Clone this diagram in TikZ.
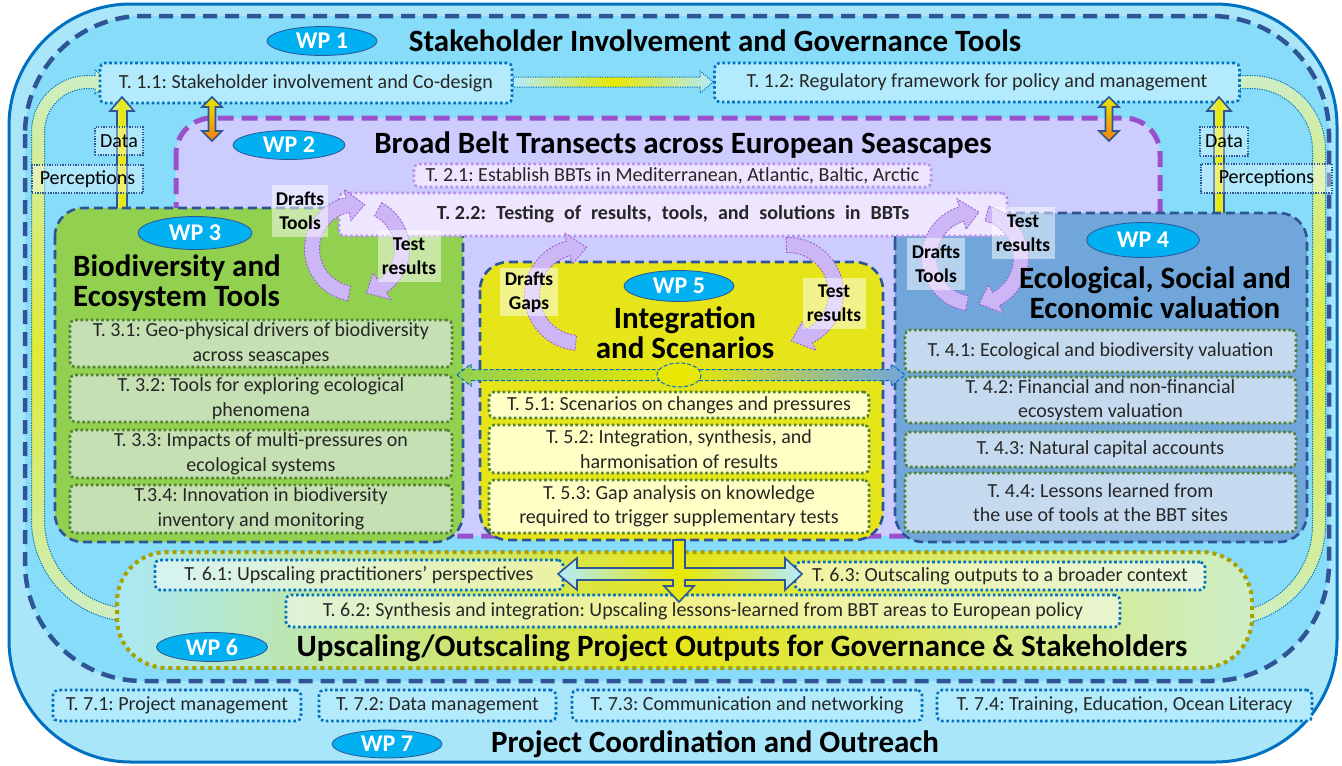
\documentclass[tikz,border=0pt]{standalone}
\usepackage{fontspec}
\setmainfont{Carlito}
\frenchspacing
\usetikzlibrary{calc,shapes.geometric}
\definecolor{outerband}{RGB}{170,230,250}
\definecolor{innerbg}{RGB}{135,220,250}
\definecolor{borderblue}{RGB}{0,112,192}
\definecolor{dashblue}{RGB}{47,85,151}
\definecolor{wptwofill}{RGB}{204,204,255}
\definecolor{wptwoline}{RGB}{153,80,204}
\definecolor{wpthreefill}{RGB}{146,208,80}
\definecolor{wpfourfill}{RGB}{112,166,218}
\definecolor{wpfivefill}{RGB}{229,229,26}
\definecolor{greentask}{RGB}{197,224,179}
\definecolor{bluetask}{RGB}{197,218,238}
\definecolor{yellowtask}{RGB}{255,255,197}
\definecolor{cyantask}{RGB}{180,235,252}
\definecolor{dotgreen}{RGB}{84,130,53}
\definecolor{dotblue}{RGB}{0,112,192}
\definecolor{lavtask}{RGB}{238,230,255}
\definecolor{dotpurple}{RGB}{185,145,240}
\definecolor{ellfill}{RGB}{0,176,240}
\definecolor{cycfill}{RGB}{205,182,245}
\definecolor{cycline}{RGB}{150,90,210}
\definecolor{olivedot}{RGB}{170,160,0}
\definecolor{paleg}{RGB}{205,238,200}
\definecolor{yel}{RGB}{232,232,0}
\definecolor{palecyan}{RGB}{170,232,245}
\newcommand\tasksize{\fontsize{20}{24.5}\selectfont}
\newcommand\titlesize{\fontsize{31}{30}\selectfont\bfseries}
\newcommand\ellsize{\fontsize{24}{26}\selectfont\bfseries}
\newcommand\labsize{\fontsize{19.5}{24}\selectfont\bfseries}
\newcommand\wsp{\hspace{10pt}}
\newcommand\vdarrow[7]{%
 \pgfmathsetmacro\vdA{#2+#6}\pgfmathsetmacro\vdB{#3-#6}%
 \pgfmathsetmacro\vdC{#1-#4}\pgfmathsetmacro\vdD{#1+#4}%
 \pgfmathsetmacro\vdE{#1-#5}\pgfmathsetmacro\vdF{#1+#5}%
 \draw[#7] (#1,#2) -- (\vdF,\vdA) -- (\vdD,\vdA) -- (\vdD,\vdB) -- (\vdF,\vdB) -- (#1,#3) -- (\vdE,\vdB) -- (\vdC,\vdB) -- (\vdC,\vdA) -- (\vdE,\vdA) -- cycle;}
\newcommand\cycarrow[5]{%
 \pgfmathsetmacro\cyRo{#3+7.5}\pgfmathsetmacro\cyRi{#3-7.5}%
 \pgfmathsetmacro\cyHo{#3+16}\pgfmathsetmacro\cyHi{#3-16}%
 \pgfmathsetmacro\cyHb{#5-sign(#5-#4)*22}%
 \draw[cyc] ($(#1,#2)+(#4:\cyRo)$) arc[start angle=#4,end angle=\cyHb,radius=\cyRo] -- ($(#1,#2)+(\cyHb:\cyHo)$) -- ($(#1,#2)+(#5:#3)$) -- ($(#1,#2)+(\cyHb:\cyHi)$) -- ($(#1,#2)+(\cyHb:\cyRi)$) arc[start angle=\cyHb,end angle=#4,radius=\cyRi] -- cycle;}
\tikzset{
 tbase/.style={rounded corners=5, line width=2.6, dash pattern=on 2.6 off 2.6, align=center, inner sep=0pt, font=\tasksize, text=black!85},
 btask/.style={tbase, draw=dotblue, fill=cyantask},
 gtask/.style={tbase, draw=dotgreen, fill=greentask},
 bgtask/.style={tbase, draw=dotgreen, fill=bluetask},
 ytask/.style={tbase, draw=dotgreen, fill=yellowtask},
 ptask/.style={tbase, draw=dotpurple, fill=lavtask},
 sixtask/.style={tbase, draw=dotblue, fill=white, fill opacity=0.5, text opacity=1},
 wpbox/.style={draw=dashblue, line width=2.6, dash pattern=on 9 off 5, rounded corners=28},
 wpell/.style={ellipse, draw=dashblue, line width=0.8, fill=ellfill, text=white, font=\ellsize, inner sep=0pt},
 wptitle/.style={font=\titlesize, align=center, inner sep=0pt},
 lab/.style={fill=white, fill opacity=0.5, text opacity=1, font=\labsize, align=center, inner sep=0pt},
 dlab/.style={draw=dashblue, dash pattern=on 1.3 off 1.3, line width=1.2, fill=white, fill opacity=0.35, draw opacity=1, text opacity=1, font=\tasksize, inner sep=0pt},
 cyc/.style={fill=cycfill, draw=cycline, dash pattern=on 2 off 1.5, line width=0.8},
 barrow/.style={draw=dashblue, line width=1.6},
 sidearrow/.style={draw=dotblue, line width=1, dash pattern=on 1.2 off 1.2, top color=paleg, bottom color=paleg, middle color=yel!75!paleg},
}
\begin{document}
\begin{tikzpicture}[x=1pt,y=-1pt]
\useasboundingbox (0,0) rectangle (1342,766);
\fill[white] (0,0) rectangle (1342,766);
% outer frame (WP7) and WP1 dashed region
\draw[draw=borderblue, line width=3, fill=outerband, rounded corners=122] (9,4) rectangle (1337,762);
\draw[draw=dashblue, line width=4.5, dash pattern=on 14 off 8, fill=innerbg, rounded corners=118] (25,16) rectangle (1329,681);
% side curved arrows
\draw[sidearrow] (95,75.5) -- (88,75.5) arc[start angle=270,end angle=180,radius=56.5] -- (31.5,520) arc[start angle=180,end angle=90,radius=101.5] -- (133,628) -- (167,615) -- (133,602) -- (133,608.5) arc[start angle=90,end angle=180,radius=88.5] -- (44.5,132) arc[start angle=180,end angle=270,radius=43.5] -- (95,88.5) -- (95,94) -- (110,82) -- (95,70) -- cycle;
\draw[sidearrow] (1240,75.5) -- (1251,75.5) arc[start angle=270,end angle=360,radius=74.5] -- (1325.5,525) arc[start angle=0,end angle=90,radius=100.5] -- (1225,632) -- (1191,619) -- (1225,606) -- (1225,612.5) arc[start angle=90,end angle=0,radius=87.5] -- (1312.5,150) arc[start angle=360,end angle=270,radius=61.5] -- (1240,88.5) -- (1240,94) -- (1225,82) -- (1240,70) -- cycle;
% WP2 region
\draw[draw=wptwoline, fill=wptwofill, line width=5, dash pattern=on 16 off 8, rounded corners=36] (176,118) rectangle (1160,536);
% WP1 tasks
\node[btask, minimum width=412, minimum height=40] (t11) at (306,83) {T. 1.1: Stakeholder involvement and Co-design};
\node[btask, minimum width=525, minimum height=39] (t12) at (977,82.5) {T. 1.2: Regulatory framework for policy and management};
\draw[draw=dotblue, line width=1, dash pattern=on 1.2 off 1.2, left color=cyantask, right color=cyantask, middle color=yel] (t11.east |- 0,77) -- (700,77) -- (700,71) -- (t12.west |- 0,82) -- (700,93) -- (700,87) -- (t11.east |- 0,87) -- cycle;
% small yellow arrows T1.x <-> WP2
\vdarrow{212}{97}{141}{3.5}{10}{10}{barrow, top color=yel, bottom color=orange!80!brown}
\vdarrow{1109}{97}{141}{3.5}{10}{10}{barrow, top color=yel, bottom color=orange!80!brown}
% Data arrows
\vdarrow{122}{97}{232}{5}{12}{14}{barrow, left color=paleg, right color=paleg, middle color=yel}
\vdarrow{1219}{97}{232}{5}{12}{14}{barrow, left color=paleg, right color=paleg, middle color=yel}
\node[dlab, minimum width=48, minimum height=28] (dl) at (119,141) {Data};
\node[dlab, minimum width=111, minimum height=28] (pl) at (87.5,179) {Perceptions};
\node[dlab, minimum width=48, minimum height=29] (dr) at (1224,141.5) {Data};
\node[dlab, minimum width=131, minimum height=29] (pr) at (1266.5,178.5) {Perceptions};
% WP3, WP4, WP5 boxes
\draw[wpbox, fill=wpthreefill] (55,208) rectangle (463,542);
\draw[wpbox, fill=wpfourfill] (895,213) rectangle (1307,542);
\draw[wpbox, fill=wpfivefill] (480,262) rectangle (883,540);
% WP2 tasks
\node[ptask, minimum width=517, minimum height=23] (t21) at (672.5,175.5) {T. 2.1: Establish BBTs in Mediterranean, Atlantic, Baltic, Arctic};
\node[ptask, minimum width=668, minimum height=43, font=\tasksize\bfseries] (t22) at (673,214.5) {T. 2.2:\wsp Testing\wsp of\wsp results,\wsp tools,\wsp and\wsp solutions\wsp in\wsp BBTs};
% cycle arrows
\cycarrow{357}{249}{45}{100}{280}
\cycarrow{357}{249}{45}{-62}{78}
\cycarrow{580}{295}{48}{95}{278}
\cycarrow{788}{293}{48}{-92}{86}
\cycarrow{975}{258}{46}{100}{275}
\cycarrow{975}{258}{46}{-75}{85}
\node[lab, minimum width=56, minimum height=52] (l1) at (300,211) {Drafts\\Tools};
\node[lab, minimum width=63, minimum height=52] (l2) at (409,256) {Test\\results};
\node[lab, minimum width=58, minimum height=48] (l3) at (529,292) {Drafts\\Gaps};
\node[lab, minimum width=63, minimum height=51] (l4) at (834,303) {Test\\results};
\node[lab, minimum width=58, minimum height=52] (l5) at (936,264) {Drafts\\Tools};
\node[lab, minimum width=63, minimum height=52] (l6) at (1023,233) {Test\\results};
% WP3 <-> WP4 arrow
\draw[draw=dotblue, line width=1, dash pattern=on 4 off 2, left color=wpthreefill, right color=wpfourfill, middle color=yel] (457,375) -- (471,364) -- (471,369.5) -- (891,369.5) -- (891,364) -- (905,375) -- (891,386) -- (891,380.5) -- (471,380.5) -- (471,386) -- cycle;
\draw[draw=dotblue, line width=1, dash pattern=on 4 off 2, fill=yel!85!wpfivefill] (679,375) ellipse[x radius=22, y radius=12];
% WP3 tasks
\node[gtask, minimum width=382, minimum height=47] (t31) at (261,343.5) {T. 3.1: Geo-physical drivers of biodiversity\\across seascapes};
\node[gtask, minimum width=382, minimum height=47] (t32) at (261,398.5) {T. 3.2: Tools for exploring ecological\\phenomena};
\node[gtask, minimum width=382, minimum height=48] (t33) at (261,454) {T. 3.3: Impacts of multi-pressures on\\ecological systems};
\node[gtask, minimum width=382, minimum height=48] (t34) at (261,509) {T.3.4: Innovation in biodiversity\\inventory and monitoring};
% WP4 tasks
\node[bgtask, minimum width=391, minimum height=42] (t41) at (1100.5,351) {T. 4.1: Ecological and biodiversity valuation};
\node[bgtask, minimum width=391, minimum height=46] (t42) at (1100.5,400) {T. 4.2: Financial and non-financial\\ecosystem valuation};
\node[bgtask, minimum width=391, minimum height=35] (t43) at (1100.5,449.5) {T. 4.3: Natural capital accounts};
\node[bgtask, minimum width=391, minimum height=59] (t44) at (1100.5,502.5) {T. 4.4: Lessons learned from\\the use of tools at the BBT sites};
% WP5 tasks
\node[ytask, minimum width=380, minimum height=26] (t51) at (679,405) {T. 5.1: Scenarios on changes and pressures};
\node[ytask, minimum width=380, minimum height=48] (t52) at (679,449) {T. 5.2: Integration, synthesis, and\\harmonisation of results};
\node[ytask, minimum width=380, minimum height=53] (t53) at (679,506.5) {T. 5.3: Gap analysis on knowledge\\required to trigger supplementary tests};
% WP6 region
\draw[draw=olivedot, line width=4, dash pattern=on 4 off 4, rounded corners=50, left color=palecyan, right color=paleg, middle color=wpfivefill] (117,552) rectangle (1252,668);
\node[sixtask, minimum width=408, minimum height=30] (t61) at (359,575) {T. 6.1: Upscaling practitioners’ perspectives};
\node[sixtask, minimum width=834, minimum height=32] (t62) at (703,611) {T. 6.2: Synthesis and integration: Upscaling lessons-learned from BBT areas to European policy};
\node[sixtask, minimum width=410, minimum height=28] (t63) at (1000,576) {T. 6.3: Outscaling outputs to a broader context};
\draw[barrow, left color=cyantask, right color=cyantask, middle color=yel] (673,540) -- (673,568) -- (577,568) -- (577,558) -- (558,574) -- (577,590) -- (577,580) -- (673,580) -- (673,586) -- (664,586) -- (679,602) -- (694,586) -- (685,586) -- (685,580) -- (785,580) -- (785,590) -- (802,574) -- (785,558) -- (785,568) -- (685,568) -- (685,540) -- cycle;
% WP7 tasks
\node[btask, minimum width=248, minimum height=31] (t71) at (177,705.5) {T. 7.1: Project management};
\node[btask, minimum width=237, minimum height=31] (t72) at (437.5,705.5) {T. 7.2: Data management};
\node[btask, minimum width=350, minimum height=31] (t73) at (747,705.5) {T. 7.3: Communication and networking};
\node[btask, minimum width=375, minimum height=31] (t74) at (1124.5,705.5) {T. 7.4: Training, Education, Ocean Literacy};
% ellipses
\node[wpell, minimum width=110, minimum height=29] (e1) at (322,41) {WP 1};
\node[wpell, minimum width=112, minimum height=29] (e2) at (289,145) {WP 2};
\node[wpell, minimum width=114, minimum height=33] (e3) at (195,233) {WP 3};
\node[wpell, minimum width=113, minimum height=35] (e4) at (1143,240) {WP 4};
\node[wpell, minimum width=110, minimum height=31] (e5) at (679,286) {WP 5};
\node[wpell, minimum width=111, minimum height=29] (e6) at (212,647) {WP 6};
\node[wpell, minimum width=110, minimum height=28] (e7) at (387,744) {WP 7};
% titles
\node[wptitle] (w1) at (715,41) {Stakeholder Involvement and Governance Tools};
\node[wptitle] (w2) at (683,145) {Broad Belt Transects across European Seascapes};
\node[wptitle, align=left, anchor=west] (w3) at (73,283) {Biodiversity and\\Ecosystem Tools};
\node[wptitle] (w4) at (1155,293) {Ecological, Social and\\Economic valuation};
\node[wptitle] (w5) at (685,333) {Integration\\and Scenarios};
\node[wptitle] (w6) at (742,648) {Upscaling/Outscaling Project Outputs for Governance \& Stakeholders};
\node[wptitle] (w7) at (715,744) {Project Coordination and Outreach};
\end{tikzpicture}
\end{document}
